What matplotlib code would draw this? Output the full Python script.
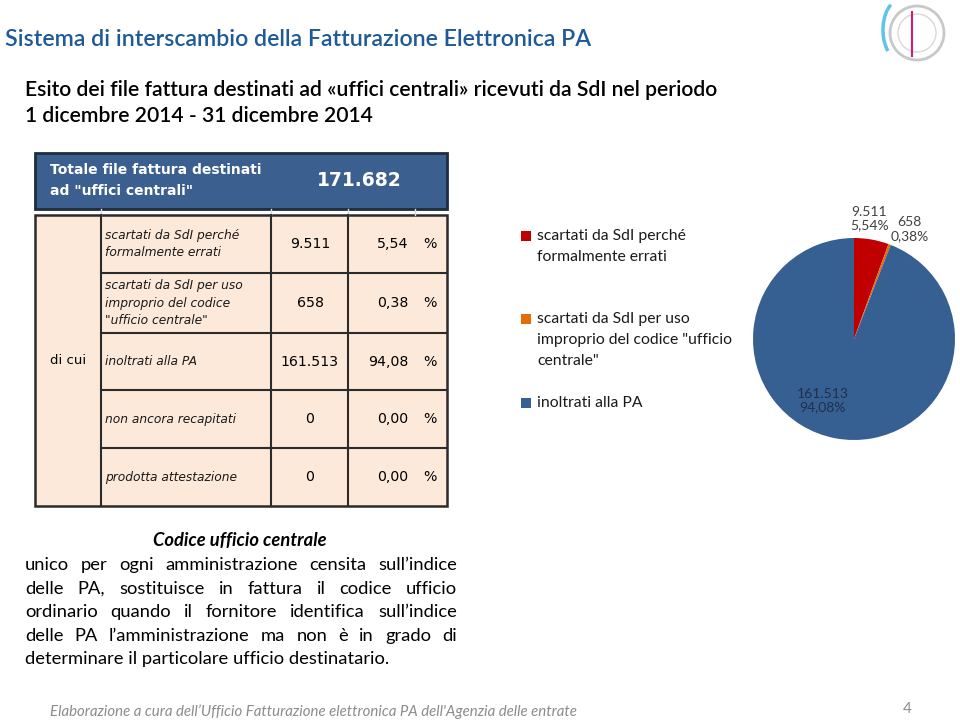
import matplotlib
matplotlib.use("Agg")
import matplotlib.pyplot as plt
from matplotlib.patches import Rectangle, Circle, Arc

# dati
categorie = ["scartati da SdI perché\nformalmente errati",
             "scartati da SdI per uso\nimproprio del codice \"ufficio\ncentrale\"",
             "inoltrati alla PA"]
valori = [9511, 658, 161513]
etichette_valori = ["9.511", "658", "161.513"]
etichette_pct = ["5,54%", "0,38%", "94,08%"]
colori = ["#C00000", "#E46C0A", "#376092"]

totale = "171.682"
righe_tabella = ["scartati da SdI perché\nformalmente errati",
                 "scartati da SdI per uso\nimproprio del codice\n\"ufficio centrale\"",
                 "inoltrati alla PA",
                 "non ancora recapitati",
                 "prodotta attestazione"]
valori_tabella = ["9.511", "658", "161.513", "0", "0"]
pct_tabella = ["5,54", "0,38", "94,08", "0,00", "0,00"]

paragrafo = [
    "unico per ogni amministrazione censita sull’indice",
    "delle PA, sostituisce in fattura il codice ufficio",
    "ordinario quando il fornitore identifica sull’indice",
    "delle PA l’amministrazione ma non è in grado di",
    "determinare il particolare ufficio destinatario.",
]

fig = plt.figure(figsize=(9.6, 7.22), dpi=100)
ax = fig.add_axes([0, 0, 1, 1])
ax.set_xlim(0, 960)
ax.set_ylim(722, 0)
ax.axis("off")

# titoli
ax.text(5, 40, "Sistema di interscambio della Fatturazione Elettronica PA",
        fontsize=16.7, family="Lato", color="#1F5A96", va="center", fontweight="semibold")
ax.text(25, 90, "Esito dei file fattura destinati ad «uffici centrali» ricevuti da SdI nel periodo",
        fontsize=15.2, family="Lato", color="black", va="center", fontweight="semibold")
ax.text(25, 116, "1 dicembre 2014 - 31 dicembre 2014",
        fontsize=15.2, family="Lato", color="black", va="center", fontweight="semibold")

# logo (semplificato)
ax.add_patch(Circle((917, 33), 27, fill=False, ec="#C8C8C8", lw=2))
ax.add_patch(Circle((917, 33), 19, fill=False, ec="#D8D8D8", lw=1))
ax.plot([912, 912], [12, 56], color="#D0197A", lw=1.5)
ax.add_patch(Arc((900, 30), 34, 60, theta1=120, theta2=250, ec="#5FC4E8", lw=2.5))

# tabella - intestazione
x0, x1 = 35, 447
ax.add_patch(Rectangle((x0, 153), x1 - x0, 56, fc="#3B5F8E", ec="#1E2C40", lw=2))
ax.text(50, 170, "Totale file fattura destinati", color="white", fontsize=10,
        fontweight="bold", va="center")
ax.text(50, 191, "ad \"uffici centrali\"", color="white", fontsize=10,
        fontweight="bold", va="center")
ax.text(359, 181, totale, color="white", fontsize=13.5, fontweight="bold",
        va="center", ha="center")
for xv in [101, 271, 348, 415]:
    ax.plot([xv, xv], [209, 215], color="#D8D8D8", lw=1)

# tabella - corpo
ytop, ybot = 215, 506
ax.add_patch(Rectangle((x0, ytop), x1 - x0, ybot - ytop, fc="#FDE9D9", ec="#2B2B2B", lw=1.8))
for xv in [101, 271, 348]:
    ax.plot([xv, xv], [ytop, ybot], color="#2B2B2B", lw=1.5)
bordi = [215, 273, 333, 390, 448, 506]
for yv in bordi[1:-1]:
    ax.plot([101, x1], [yv, yv], color="#2B2B2B", lw=1.5)
ax.text(68, 361, "di cui", fontsize=9.5, va="center", ha="center")
for i, (lab, v, p) in enumerate(zip(righe_tabella, valori_tabella, pct_tabella)):
    yc = (bordi[i] + bordi[i + 1]) / 2
    ax.text(105, yc, lab, fontsize=8.8, style="italic", va="center", linespacing=1.45,
            color="#1A1A1A")
    ax.text(310, yc, v, fontsize=10.2, va="center", ha="center")
    ax.text(408, yc, p, fontsize=10.2, va="center", ha="right")
    ax.text(430, yc, "%", fontsize=10.2, va="center", ha="center")

# legenda torta
leg_y = [236, 319, 403]
for cat, col, yv in zip(categorie, colori, leg_y):
    ax.add_patch(Rectangle((521, yv - 5), 10, 10, fc=col, ec="none"))
    righe = cat.split("\n")
    for k, rr in enumerate(righe):
        ax.text(537, yv + k * 21, rr, fontsize=11.3, family="Lato", va="center",
                color="#1A1A1A")

# torta
pax = fig.add_axes([753 / 960, (722 - 440) / 722, 202 / 960, 202 / 722])
pax.pie(valori, colors=colori, startangle=90, counterclock=False,
        wedgeprops=dict(linewidth=0))
pax.set_xlim(-1, 1)
pax.set_ylim(-1, 1)
pax.set_aspect("equal")
pax.text(0.15, 1.19, etichette_valori[0] + "\n" + etichette_pct[0], ha="center", va="center",
         fontsize=10, family="Lato", color="#404040", linespacing=1.15)
pax.text(0.55, 1.09, etichette_valori[1] + "\n" + etichette_pct[1], ha="center", va="center",
         fontsize=10, family="Lato", color="#404040", linespacing=1.15)
pax.text(-0.31, -0.61, etichette_valori[2] + "\n" + etichette_pct[2], ha="center", va="center",
         fontsize=10, family="Lato", color="#1F2F4F", linespacing=1.15)

# testo descrittivo
fs = 13.2
ax.text(240, 540, "Codice ufficio centrale", fontsize=fs, family="Lato",
        fontweight="bold", style="italic", ha="center", va="center")
fig.canvas.draw()
r = fig.canvas.get_renderer()
px0, px1 = 25, 457
for j, riga in enumerate(paragrafo):
    yv = 565 + j * 23.6
    parole = riga.split(" ")
    if j == len(paragrafo) - 1:
        ax.text(px0, yv, riga, fontsize=fs, family="Lato", va="center")
        continue
    oggetti = [ax.text(0, yv, w, fontsize=fs, family="Lato", va="center") for w in parole]
    larghezze = [t.get_window_extent(r).width for t in oggetti]
    spazio = (px1 - px0 - sum(larghezze)) / (len(parole) - 1)
    xc = px0
    for t, w in zip(oggetti, larghezze):
        t.set_x(xc)
        xc += w + spazio

# piè di pagina
ax.text(50, 712, "Elaborazione a cura dell’Ufficio Fatturazione elettronica PA dell'Agenzia delle entrate",
        fontsize=10.8, family="Lato", style="italic", color="#8C8C8C", va="center")
ax.text(907, 709, "4", fontsize=11, family="Lato", color="#8C8C8C", va="center", ha="center")

fig.savefig("out.png", dpi=100)
